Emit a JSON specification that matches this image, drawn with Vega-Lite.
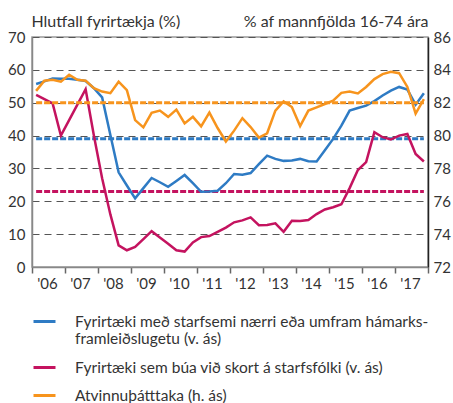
{
  "$schema": "https://vega.github.io/schema/vega-lite/v6.json",
  "width": 396,
  "height": 230,
  "autosize": {"type": "none"},
  "padding": {"left": 32, "top": 37, "right": 25, "bottom": 136},
  "background": "white",
  "config": {
    "font": "Lato",
    "view": {"stroke": "#999", "strokeWidth": 1.5},
    "axis": {"labelFont": "Lato", "labelFontSize": 15, "labelColor": "#333", "labelOverlap": false, "titleFont": "Lato", "titleFontSize": 16, "titleColor": "#333", "titleFontWeight": "normal"},
    "legend": {"labelFont": "Lato", "labelFontSize": 15.5, "labelColor": "#333"}
  },
  "datasets": {
    "series": [
      {"t":2006.125,"s":"A","v":55.7},{"t":2006.375,"s":"A","v":56.5},{"t":2006.625,"s":"A","v":57.4},{"t":2006.875,"s":"A","v":57.3},
      {"t":2007.125,"s":"A","v":57.3},{"t":2007.375,"s":"A","v":57.0},{"t":2007.625,"s":"A","v":56.6},{"t":2007.875,"s":"A","v":54.4},
      {"t":2008.125,"s":"A","v":51.6},{"t":2008.375,"s":"A","v":40.2},{"t":2008.625,"s":"A","v":28.8},{"t":2008.875,"s":"A","v":24.8},
      {"t":2009.125,"s":"A","v":20.9},{"t":2009.375,"s":"A","v":24.0},{"t":2009.625,"s":"A","v":27.1},{"t":2009.875,"s":"A","v":25.8},
      {"t":2010.125,"s":"A","v":24.4},{"t":2010.375,"s":"A","v":26.2},{"t":2010.625,"s":"A","v":28.0},{"t":2010.875,"s":"A","v":25.5},
      {"t":2011.125,"s":"A","v":22.9},{"t":2011.375,"s":"A","v":23.0},{"t":2011.625,"s":"A","v":23.2},{"t":2011.875,"s":"A","v":25.5},
      {"t":2012.125,"s":"A","v":28.3},{"t":2012.375,"s":"A","v":28.1},{"t":2012.625,"s":"A","v":28.6},{"t":2012.875,"s":"A","v":31.3},
      {"t":2013.125,"s":"A","v":33.9},{"t":2013.375,"s":"A","v":32.9},{"t":2013.625,"s":"A","v":32.3},{"t":2013.875,"s":"A","v":32.4},
      {"t":2014.125,"s":"A","v":32.9},{"t":2014.375,"s":"A","v":32.2},{"t":2014.625,"s":"A","v":32.1},{"t":2014.875,"s":"A","v":35.5},
      {"t":2015.125,"s":"A","v":39.0},{"t":2015.375,"s":"A","v":43.0},{"t":2015.625,"s":"A","v":47.6},{"t":2015.875,"s":"A","v":48.4},
      {"t":2016.125,"s":"A","v":49.1},{"t":2016.375,"s":"A","v":50.5},{"t":2016.625,"s":"A","v":52.2},{"t":2016.875,"s":"A","v":53.7},
      {"t":2017.125,"s":"A","v":54.8},{"t":2017.375,"s":"A","v":54.0},{"t":2017.625,"s":"A","v":49.4},{"t":2017.875,"s":"A","v":52.9},

      {"t":2006.125,"s":"B","v":52.4},{"t":2006.375,"s":"B","v":51.1},{"t":2006.625,"s":"B","v":49.8},{"t":2006.875,"s":"B","v":40.0},
      {"t":2007.125,"s":"B","v":44.7},{"t":2007.375,"s":"B","v":49.4},{"t":2007.625,"s":"B","v":54.1},{"t":2007.875,"s":"B","v":40.0},
      {"t":2008.125,"s":"B","v":27.0},{"t":2008.375,"s":"B","v":16.0},{"t":2008.625,"s":"B","v":6.6},{"t":2008.875,"s":"B","v":5.1},
      {"t":2009.125,"s":"B","v":6.1},{"t":2009.375,"s":"B","v":8.5},{"t":2009.625,"s":"B","v":10.9},{"t":2009.875,"s":"B","v":9.0},
      {"t":2010.125,"s":"B","v":7.1},{"t":2010.375,"s":"B","v":5.1},{"t":2010.625,"s":"B","v":4.7},{"t":2010.875,"s":"B","v":7.5},
      {"t":2011.125,"s":"B","v":9.1},{"t":2011.375,"s":"B","v":9.4},{"t":2011.625,"s":"B","v":10.7},{"t":2011.875,"s":"B","v":12.0},
      {"t":2012.125,"s":"B","v":13.6},{"t":2012.375,"s":"B","v":14.2},{"t":2012.625,"s":"B","v":15.1},{"t":2012.875,"s":"B","v":12.7},
      {"t":2013.125,"s":"B","v":12.8},{"t":2013.375,"s":"B","v":13.3},{"t":2013.625,"s":"B","v":10.7},{"t":2013.875,"s":"B","v":14.1},
      {"t":2014.125,"s":"B","v":14.0},{"t":2014.375,"s":"B","v":14.3},{"t":2014.625,"s":"B","v":16.1},{"t":2014.875,"s":"B","v":17.5},
      {"t":2015.125,"s":"B","v":18.2},{"t":2015.375,"s":"B","v":19.1},{"t":2015.625,"s":"B","v":24.0},{"t":2015.875,"s":"B","v":29.5},
      {"t":2016.125,"s":"B","v":31.9},{"t":2016.375,"s":"B","v":41.0},{"t":2016.625,"s":"B","v":39.5},{"t":2016.875,"s":"B","v":38.8},
      {"t":2017.125,"s":"B","v":40.0},{"t":2017.375,"s":"B","v":40.5},{"t":2017.625,"s":"B","v":34.4},{"t":2017.875,"s":"B","v":32.1},

      {"t":2006.125,"s":"C","v":82.72},{"t":2006.375,"s":"C","v":83.34},{"t":2006.625,"s":"C","v":83.40},{"t":2006.875,"s":"C","v":83.28},
      {"t":2007.125,"s":"C","v":83.70},{"t":2007.375,"s":"C","v":83.40},{"t":2007.625,"s":"C","v":83.34},{"t":2007.875,"s":"C","v":82.88},
      {"t":2008.125,"s":"C","v":82.68},{"t":2008.375,"s":"C","v":82.58},{"t":2008.625,"s":"C","v":83.28},{"t":2008.875,"s":"C","v":82.76},
      {"t":2009.125,"s":"C","v":80.94},{"t":2009.375,"s":"C","v":80.50},{"t":2009.625,"s":"C","v":81.38},{"t":2009.875,"s":"C","v":81.52},
      {"t":2010.125,"s":"C","v":81.14},{"t":2010.375,"s":"C","v":81.58},{"t":2010.625,"s":"C","v":80.74},{"t":2010.875,"s":"C","v":81.14},
      {"t":2011.125,"s":"C","v":80.56},{"t":2011.375,"s":"C","v":81.40},{"t":2011.625,"s":"C","v":80.46},{"t":2011.875,"s":"C","v":79.64},
      {"t":2012.125,"s":"C","v":80.30},{"t":2012.375,"s":"C","v":81.06},{"t":2012.625,"s":"C","v":80.52},{"t":2012.875,"s":"C","v":79.88},
      {"t":2013.125,"s":"C","v":80.14},{"t":2013.375,"s":"C","v":81.52},{"t":2013.625,"s":"C","v":82.08},{"t":2013.875,"s":"C","v":81.74},
      {"t":2014.125,"s":"C","v":80.58},{"t":2014.375,"s":"C","v":81.52},{"t":2014.625,"s":"C","v":81.72},{"t":2014.875,"s":"C","v":81.92},
      {"t":2015.125,"s":"C","v":82.12},{"t":2015.375,"s":"C","v":82.60},{"t":2015.625,"s":"C","v":82.68},{"t":2015.875,"s":"C","v":82.56},
      {"t":2016.125,"s":"C","v":82.96},{"t":2016.375,"s":"C","v":83.44},{"t":2016.625,"s":"C","v":83.74},{"t":2016.875,"s":"C","v":83.88},
      {"t":2017.125,"s":"C","v":83.80},{"t":2017.375,"s":"C","v":82.96},{"t":2017.625,"s":"C","v":81.34},{"t":2017.875,"s":"C","v":82.22}
    ],
    "refs": [
      {"s":"A","v":39,"t0":2006.125,"t1":2017.875},
      {"s":"B","v":23,"t0":2006.125,"t1":2017.875},
      {"s":"C","v":82,"t0":2006.125,"t1":2017.875}
    ]
  },
  "encoding": {
    "x": {
      "field": "t", "type": "quantitative",
      "scale": {"domain": [2006, 2018], "nice": false, "zero": false},
      "axis": {
        "values": [2006,2007,2008,2009,2010,2011,2012,2013,2014,2015,2016,2017,2018],
        "labelExpr": "datum.value < 2018 ? \"'\" + substring(toString(datum.value), 2, 4) : ''",
        "labelOffset": 15, "labelPadding": 3, "labelAlign": "center", "labelFlush": false, "labelOverlap": false,
        "tickSize": 6, "tickColor": "#666", "tickWidth": 1.5,
        "domainColor": "#888", "domainWidth": 1.5, "grid": false, "title": null
      }
    },
    "color": {
      "field": "s", "type": "nominal",
      "scale": {"domain": ["A", "B", "C"], "range": ["#2e7bc4", "#c4135f", "#f7941d"]},
      "legend": {
        "orient": "none", "legendX": 0, "legendY": 272, "direction": "vertical",
        "title": null, "padding": 0,
        "symbolType": "stroke", "symbolSize": 484, "symbolStrokeWidth": 3,
        "labelOffset": 18, "rowPadding": 7, "labelLimit": 400,
        "labelExpr": "datum.value == 'A' ? ['Fyrirtæki með starfsemi nærri eða umfram hámarks-', 'framleiðslugetu (v. ás)'] : datum.value == 'B' ? 'Fyrirtæki sem búa við skort á starfsfólki (v. ás)' : 'Atvinnuþátttaka (h. ás)'"
      }
    }
  },
  "layer": [
    {
      "encoding": {
        "y": {
          "field": "v", "type": "quantitative",
          "scale": {"domain": [0, 70], "nice": false},
          "axis": {
            "values": [0,10,20,30,40,50,60,70], "labelOverlap": false, "tickCount": 8,
            "tickSize": 0, "labelPadding": 7, "domainColor": "#888", "domainWidth": 1.5,
            "grid": true, "gridDash": [7, 5], "gridColor": "#555", "gridWidth": 1,
            "title": "Hlutfall fyrirtækja (%)", "titleAngle": 0, "titleAlign": "left",
            "titleBaseline": "alphabetic", "titleX": -1, "titleY": -11
          }
        }
      },
      "layer": [
        {
          "data": {"name": "refs"},
          "transform": [{"filter": "datum.s != 'C'"}],
          "mark": {"type": "rule", "strokeWidth": 3, "strokeDash": [6, 2]},
          "encoding": {
            "x": {"field": "t0", "type": "quantitative"},
            "x2": {"field": "t1"}
          }
        },
        {
          "data": {"name": "series"},
          "transform": [{"filter": "datum.s != 'C'"}],
          "mark": {"type": "line", "strokeWidth": 2.5}
        }
      ]
    },
    {
      "encoding": {
        "y": {
          "field": "v", "type": "quantitative",
          "scale": {"domain": [72, 86], "nice": false, "zero": false},
          "axis": {
            "orient": "right",
            "values": [72,74,76,78,80,82,84,86], "labelOverlap": false, "tickCount": 8,
            "tickSize": 0, "labelPadding": 5, "domainColor": "#222", "domainWidth": 1.5,
            "grid": false,
            "title": "% af mannfjölda 16-74 ára", "titleAngle": 0, "titleAlign": "right",
            "titleBaseline": "alphabetic", "titleX": 0, "titleY": -11
          }
        }
      },
      "layer": [
        {
          "data": {"name": "refs"},
          "transform": [{"filter": "datum.s == 'C'"}],
          "mark": {"type": "rule", "strokeWidth": 3, "strokeDash": [6, 2]},
          "encoding": {
            "x": {"field": "t0", "type": "quantitative"},
            "x2": {"field": "t1"}
          }
        },
        {
          "data": {"name": "series"},
          "transform": [{"filter": "datum.s == 'C'"}],
          "mark": {"type": "line", "strokeWidth": 2.5}
        }
      ]
    }
  ],
  "resolve": {"scale": {"y": "independent"}, "axis": {"y": "independent"}}
}
